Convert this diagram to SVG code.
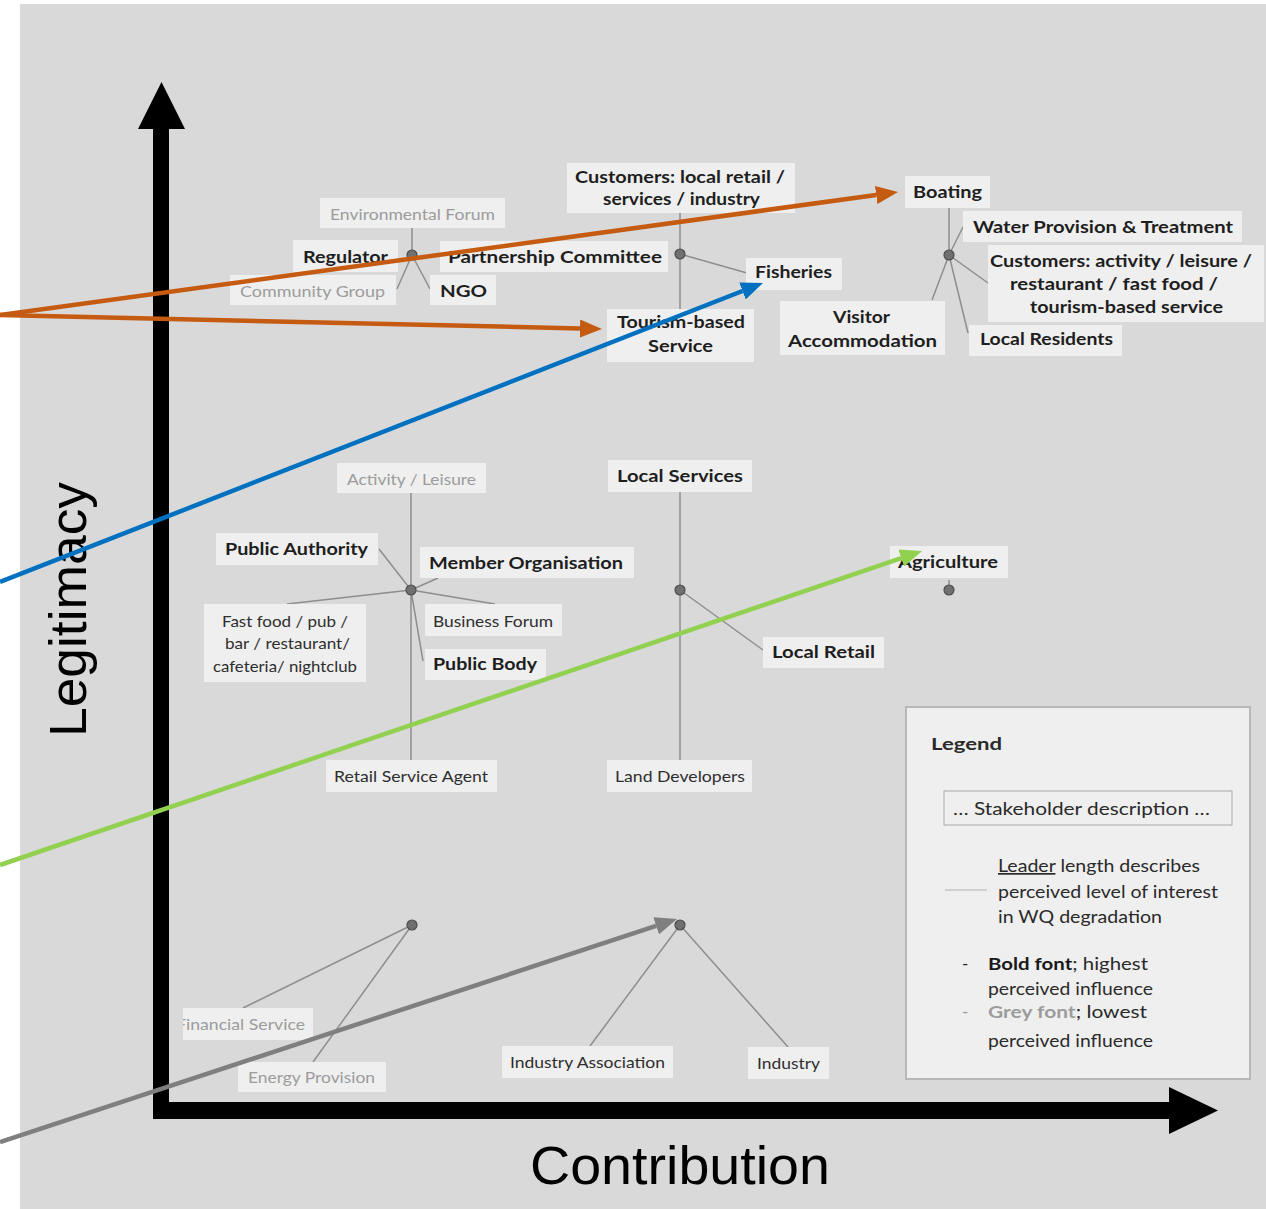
<svg xmlns="http://www.w3.org/2000/svg" width="1266" height="1209" viewBox="0 0 1266 1209">
<style>
.b{font-family:Lato,"Liberation Sans",sans-serif;font-weight:bold;font-size:17px;fill:#1e1e1e}
.n{font-family:Lato,"Liberation Sans",sans-serif;font-size:16px;fill:#2e2e2e}
.g{font-family:Lato,"Liberation Sans",sans-serif;font-size:16px;fill:#9c9c9c}
.lg{font-family:Lato,"Liberation Sans",sans-serif;font-size:17px;fill:#2a2a2a}
.box{fill:#efefef}
.lead{stroke:#8e8e8e;stroke-width:1.5;fill:none}
.dot{fill:#707070;stroke:#4c4c4c;stroke-width:1.2}
.axis{font-family:"Liberation Sans",Arial,sans-serif;fill:#000}
.arr{fill:none;stroke-width:4.5}
</style>
<defs>
<marker id="hO" viewBox="0 0 22 18" markerWidth="22" markerHeight="18" refX="0" refY="9" orient="auto" markerUnits="userSpaceOnUse"><path d="M0,0 L22,9 L0,18 Z" fill="#c55a11"/></marker>
<marker id="hB" viewBox="0 0 22 18" markerWidth="22" markerHeight="18" refX="0" refY="9" orient="auto" markerUnits="userSpaceOnUse"><path d="M0,0 L22,9 L0,18 Z" fill="#0070c0"/></marker>
<marker id="hG" viewBox="0 0 22 18" markerWidth="22" markerHeight="18" refX="0" refY="9" orient="auto" markerUnits="userSpaceOnUse"><path d="M0,0 L22,9 L0,18 Z" fill="#92d050"/></marker>
<marker id="hK" viewBox="0 0 22 18" markerWidth="22" markerHeight="18" refX="0" refY="9" orient="auto" markerUnits="userSpaceOnUse"><path d="M0,0 L22,9 L0,18 Z" fill="#7f7f7f"/></marker>
<clipPath id="finClip"><rect x="183" y="1000" width="140" height="50"/></clipPath>
</defs>
<rect x="0" y="0" width="1266" height="1209" fill="#ffffff"/>
<rect x="20" y="4" width="1246" height="1205" fill="#d9d9d9"/>

<g id="axes">
<rect x="153" y="128" width="16" height="991"/>
<polygon points="161.5,82 185,129 138,129"/>
<rect x="153" y="1102" width="1018" height="17"/>
<polygon points="1169,1087 1218,1110.5 1169,1134"/>
<text class="axis" x="0" y="0" font-size="52" textLength="255" lengthAdjust="spacingAndGlyphs" transform="translate(86,737) rotate(-90)">Legitimacy</text>
<text class="axis" x="530" y="1184" font-size="54" textLength="300" lengthAdjust="spacingAndGlyphs">Contribution</text>
</g>

<g id="leaders">
<path class="lead" d="M412,228 V255 M412,255 L397,289 M412,255 L430,289"/>
<path class="lead" d="M680,213 V309 M680,254 L747,273"/>
<path class="lead" d="M949,208 V255 M949,255 L963,227 M949,255 L988,283 M949,255 L932,300 M949,255 L968,333"/>
<path class="lead" d="M411,493 V760 M411,590 L379,549 M411,590 L438,578 M411,590 L287,604 M411,590 L495,604 M411,590 L423,661"/>
<path class="lead" d="M680,492 V760 M680,590 L763,650"/>
<path class="lead" d="M949,580 V590"/>
<path class="lead" d="M412,925 L243,1008 M412,925 L313,1062"/>
<path class="lead" d="M680,925 L590,1046 M680,925 L788,1047"/>
</g>

<g id="dots">
<circle class="dot" cx="412" cy="255" r="5"/>
<circle class="dot" cx="680" cy="254" r="5"/>
<circle class="dot" cx="949" cy="255" r="5"/>
<circle class="dot" cx="411" cy="590" r="5"/>
<circle class="dot" cx="680" cy="590" r="5"/>
<circle class="dot" cx="949" cy="590" r="5"/>
<circle class="dot" cx="412" cy="925" r="5"/>
<circle class="dot" cx="680" cy="925" r="5"/>
</g>

<g id="node-environmental-forum"><rect class="box" x="320" y="198" width="185" height="30"/><text class="g" x="330" y="220" textLength="165" lengthAdjust="spacingAndGlyphs">Environmental Forum</text></g>
<g id="node-regulator"><rect class="box" x="293" y="240" width="105" height="32"/><text class="b" x="303" y="263" textLength="85" lengthAdjust="spacingAndGlyphs">Regulator</text></g>
<g id="node-partnership-committee"><rect class="box" x="440" y="241" width="228" height="31"/><text class="b" x="448" y="263" textLength="214" lengthAdjust="spacingAndGlyphs">Partnership Committee</text></g>
<g id="node-community-group"><rect class="box" x="230" y="275" width="166" height="30"/><text class="g" x="240" y="297" textLength="145" lengthAdjust="spacingAndGlyphs">Community Group</text></g>
<g id="node-ngo"><rect class="box" x="430" y="275" width="66" height="30"/><text class="b" x="440" y="297" textLength="47" lengthAdjust="spacingAndGlyphs">NGO</text></g>

<g id="node-customers-local"><rect class="box" x="567" y="163" width="228" height="50"/><text class="b" x="575" y="183" textLength="210" lengthAdjust="spacingAndGlyphs">Customers: local retail /</text><text class="b" x="603" y="205" textLength="157" lengthAdjust="spacingAndGlyphs">services / industry</text></g>
<g id="node-fisheries"><rect class="box" x="746" y="258" width="96" height="32"/><text class="b" x="755" y="278" textLength="77" lengthAdjust="spacingAndGlyphs">Fisheries</text></g>
<g id="node-tourism-based-service"><rect class="box" x="607" y="309" width="147" height="53"/><text class="b" x="617" y="328" textLength="128" lengthAdjust="spacingAndGlyphs">Tourism-based</text><text class="b" x="648" y="352" textLength="65" lengthAdjust="spacingAndGlyphs">Service</text></g>

<g id="node-boating"><rect class="box" x="905" y="176" width="85" height="32"/><text class="b" x="913" y="198" textLength="69" lengthAdjust="spacingAndGlyphs">Boating</text></g>
<g id="node-water-provision"><rect class="box" x="963" y="211" width="279" height="31"/><text class="b" x="973" y="233" textLength="260" lengthAdjust="spacingAndGlyphs">Water Provision &amp; Treatment</text></g>
<g id="node-customers-activity"><rect class="box" x="988" y="245" width="276" height="77"/><text class="b" x="990" y="267" textLength="262" lengthAdjust="spacingAndGlyphs">Customers: activity / leisure /</text><text class="b" x="1010" y="290" textLength="208" lengthAdjust="spacingAndGlyphs">restaurant / fast food /</text><text class="b" x="1030" y="313" textLength="193" lengthAdjust="spacingAndGlyphs">tourism-based service</text></g>
<g id="node-visitor-accommodation"><rect class="box" x="780" y="301" width="165" height="54"/><text class="b" x="833" y="323" textLength="57" lengthAdjust="spacingAndGlyphs">Visitor</text><text class="b" x="788" y="347" textLength="149" lengthAdjust="spacingAndGlyphs">Accommodation</text></g>
<g id="node-local-residents"><rect class="box" x="969" y="325" width="153" height="31"/><text class="b" x="980" y="345" textLength="133" lengthAdjust="spacingAndGlyphs">Local Residents</text></g>

<g id="node-activity-leisure"><rect class="box" x="337" y="463" width="149" height="30"/><text class="g" x="347" y="485" textLength="129" lengthAdjust="spacingAndGlyphs">Activity / Leisure</text></g>
<g id="node-public-authority"><rect class="box" x="216" y="533" width="162" height="32"/><text class="b" x="225" y="555" textLength="143" lengthAdjust="spacingAndGlyphs">Public Authority</text></g>
<g id="node-member-organisation"><rect class="box" x="420" y="547" width="214" height="31"/><text class="b" x="429" y="569" textLength="194" lengthAdjust="spacingAndGlyphs">Member Organisation</text></g>
<g id="node-fast-food"><rect class="box" x="204" y="604" width="162" height="78"/><text class="n" x="222" y="627" textLength="126" lengthAdjust="spacingAndGlyphs">Fast food / pub /</text><text class="n" x="225" y="649" textLength="125" lengthAdjust="spacingAndGlyphs">bar / restaurant/</text><text class="n" x="213" y="672" textLength="144" lengthAdjust="spacingAndGlyphs">cafeteria/ nightclub</text></g>
<g id="node-business-forum"><rect class="box" x="425" y="604" width="137" height="32"/><text class="n" x="433" y="627" textLength="120" lengthAdjust="spacingAndGlyphs">Business Forum</text></g>
<g id="node-public-body"><rect class="box" x="425" y="649" width="121" height="31"/><text class="b" x="433" y="670" textLength="104" lengthAdjust="spacingAndGlyphs">Public Body</text></g>
<g id="node-retail-service-agent"><rect class="box" x="326" y="760" width="171" height="32"/><text class="n" x="334" y="782" textLength="154" lengthAdjust="spacingAndGlyphs">Retail Service Agent</text></g>

<g id="node-local-services"><rect class="box" x="608" y="460" width="144" height="32"/><text class="b" x="617" y="482" textLength="126" lengthAdjust="spacingAndGlyphs">Local Services</text></g>
<g id="node-local-retail"><rect class="box" x="763" y="637" width="121" height="31"/><text class="b" x="772" y="658" textLength="103" lengthAdjust="spacingAndGlyphs">Local Retail</text></g>
<g id="node-land-developers"><rect class="box" x="607" y="760" width="145" height="32"/><text class="n" x="615" y="782" textLength="130" lengthAdjust="spacingAndGlyphs">Land Developers</text></g>
<g id="node-agriculture"><rect class="box" x="890" y="546" width="118" height="32"/><text class="b" x="898" y="568" textLength="100" lengthAdjust="spacingAndGlyphs">Agriculture</text></g>

<g id="node-financial-service" clip-path="url(#finClip)"><rect class="box" x="183" y="1008" width="130" height="32"/><text class="g" x="176" y="1030" textLength="129" lengthAdjust="spacingAndGlyphs">Financial Service</text></g>
<g id="node-energy-provision"><rect class="box" x="238" y="1062" width="148" height="30"/><text class="g" x="248" y="1083" textLength="127" lengthAdjust="spacingAndGlyphs">Energy Provision</text></g>
<g id="node-industry-association"><rect class="box" x="502" y="1046" width="171" height="32"/><text class="n" x="510" y="1068" textLength="155" lengthAdjust="spacingAndGlyphs">Industry Association</text></g>
<g id="node-industry"><rect class="box" x="748" y="1047" width="81" height="32"/><text class="n" x="757" y="1069" textLength="63" lengthAdjust="spacingAndGlyphs">Industry</text></g>

<g id="legend">
<rect x="906" y="707" width="344" height="372" fill="#efefef" stroke="#b8b8b8" stroke-width="2"/>
<text class="lg" x="931" y="750" font-weight="bold" textLength="71" lengthAdjust="spacingAndGlyphs">Legend</text>
<rect x="944" y="791" width="288" height="34" fill="#efefef" stroke="#a8a8a8" stroke-width="1"/>
<text class="lg" x="953" y="815" textLength="257" lengthAdjust="spacingAndGlyphs">… Stakeholder description …</text>
<line x1="945" y1="890" x2="987" y2="890" stroke="#c4c4c4" stroke-width="1.5"/>
<text class="lg" x="998" y="872" textLength="202" lengthAdjust="spacingAndGlyphs"><tspan text-decoration="underline">Leader</tspan> length describes</text>
<text class="lg" x="998" y="898" textLength="220" lengthAdjust="spacingAndGlyphs">perceived level of interest</text>
<text class="lg" x="998" y="923" textLength="164" lengthAdjust="spacingAndGlyphs">in WQ degradation</text>
<text class="lg" x="962" y="970">-</text>
<text class="lg" x="988" y="970" textLength="160" lengthAdjust="spacingAndGlyphs"><tspan font-weight="bold" fill="#1a1a1a">Bold font</tspan>; highest</text>
<text class="lg" x="988" y="995" textLength="165" lengthAdjust="spacingAndGlyphs">perceived influence</text>
<text class="lg" x="962" y="1018" fill="#9c9c9c" style="fill:#9c9c9c">-</text>
<text class="lg" x="988" y="1018" textLength="159" lengthAdjust="spacingAndGlyphs"><tspan style="fill:#9c9c9c" font-weight="bold">Grey font</tspan>; lowest</text>
<text class="lg" x="988" y="1047" textLength="165" lengthAdjust="spacingAndGlyphs">perceived influence</text>
</g>

<g id="connectors">
<line class="arr" x1="0" y1="315" x2="876.2" y2="195" stroke="#c55a11" marker-end="url(#hO)"/>
<line class="arr" x1="0" y1="315" x2="580" y2="328.5" stroke="#c55a11" marker-end="url(#hO)"/>
<line class="arr" x1="0" y1="582" x2="742.5" y2="291" stroke="#0070c0" marker-end="url(#hB)"/>
<line class="arr" x1="0" y1="865" x2="901.2" y2="558.1" stroke="#92d050" marker-end="url(#hG)"/>
<line class="arr" x1="0" y1="1142" x2="656.1" y2="925.9" stroke="#7f7f7f" marker-end="url(#hK)"/>
</g>
</svg>
